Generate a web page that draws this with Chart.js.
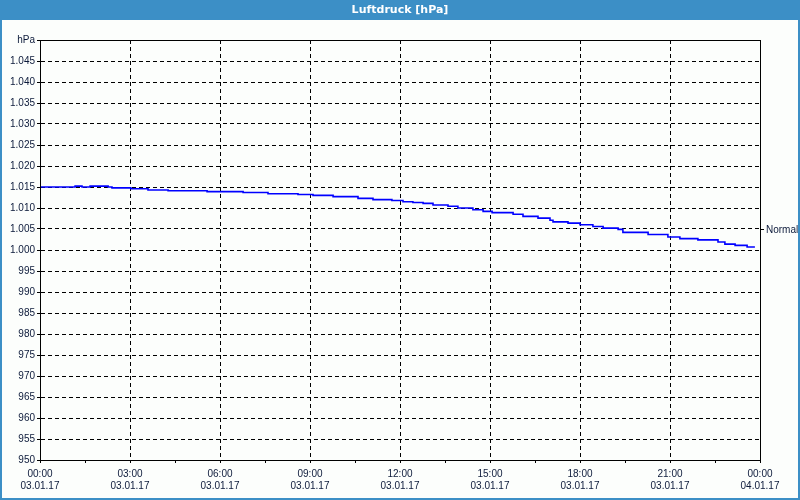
<!DOCTYPE html>
<html>
<head>
  <title>Luftdruck [hPa]</title>
  <script src="https://cdn.jsdelivr.net/npm/chart.js@4.4.1/dist/chart.umd.min.js"></script>
  <style>
    body {
      margin: 0;
      padding: 0;
      overflow: hidden;
      background-color: #fcfefc;
    }
    .chart-container {
      position: relative;
      width: 800px;
      height: 500px;
    }
  </style>
</head>
<body>
  <div class="chart-container">
    <canvas id="pressureChart"></canvas>
  </div>

  <script>
    // Data: hours since 03.01.17 00:00 and pressure in hPa
    var hours = [0, 1.17, 1.4, 1.67, 2.27, 2.4, 3.03, 3.6, 4.27, 5.57, 6.77, 7.6, 8.6, 9.1, 9.77,
                 10.6, 11.1, 11.73, 12.1, 12.43, 12.77, 13.1, 13.6, 13.93, 14.43, 14.77, 15.07,
                 15.77, 16.1, 16.6, 17.0, 17.1, 17.6, 18.0, 18.43, 18.77, 19.27, 19.43, 20.27,
                 20.93, 21.33, 21.93, 22.6, 22.83, 23.17, 23.57, 23.83];
    var pressure = [1015.2, 1015.0, 1015.2, 1015.0, 1015.2, 1015.0, 1014.8, 1014.6, 1014.3, 1014.1,
                    1013.9, 1013.7, 1013.4, 1013.2, 1013.0, 1012.7, 1012.3, 1012.0, 1011.8, 1011.5,
                    1011.3, 1011.1, 1010.7, 1010.4, 1010.0, 1009.6, 1009.2, 1008.9, 1008.5, 1008.0,
                    1007.6, 1007.1, 1006.7, 1006.4, 1006.0, 1005.6, 1005.2, 1004.9, 1004.2, 1003.7,
                    1003.1, 1002.7, 1002.4, 1001.9, 1001.4, 1001.1, 1000.7];
    var normalPressure = 1004.8;

    // Axis labels
    var timeLabels = ['00:00', '03:00', '06:00', '09:00', '12:00', '15:00', '18:00', '21:00', '00:00'];
    var dateLabels = ['03.01.17', '03.01.17', '03.01.17', '03.01.17', '03.01.17', '03.01.17', '03.01.17', '03.01.17', '04.01.17'];

    var points = [];
    for (var i = 0; i < hours.length; i++) {
      points.push({ x: hours[i], y: pressure[i] });
    }

    var labelFont = { family: 'Liberation Sans', size: 10 };
    var labelColor = '#0c1a3a';

    // Background, blue title bar, frame round the chart and box round the plot
    var framePlugin = {
      id: 'frame',
      beforeDraw: function(chart) {
        var ctx = chart.ctx;
        ctx.save();
        ctx.fillStyle = '#fcfefc';
        ctx.fillRect(0, 0, chart.width, chart.height);
        ctx.fillStyle = '#3c8fc6';
        ctx.fillRect(0, 0, chart.width, 20);
        ctx.fillRect(0, 0, 2, chart.height);
        ctx.fillRect(chart.width - 2, 0, 2, chart.height);
        ctx.fillRect(0, chart.height - 2, chart.width, 2);
        ctx.fillStyle = '#ffffff';
        ctx.font = 'bold 11px "DejaVu Sans"';
        ctx.textAlign = 'center';
        ctx.textBaseline = 'middle';
        ctx.fillText('Luftdruck [hPa]', chart.width / 2, 10);
        ctx.restore();
      },
      afterDraw: function(chart) {
        var a = chart.chartArea;
        var ctx = chart.ctx;
        ctx.save();
        ctx.setLineDash([]);
        ctx.strokeStyle = '#000000';
        ctx.lineWidth = 1;
        ctx.strokeRect(Math.round(a.left) + 0.5, Math.round(a.top) + 0.5,
                       Math.round(a.right - a.left), Math.round(a.bottom - a.top));
        ctx.restore();
      }
    };

    var ctx = document.getElementById('pressureChart').getContext('2d');
    var chart = new Chart(ctx, {
      type: 'line',
      data: {
        datasets: [{
          data: points,
          borderColor: '#0000ff',
          borderWidth: 1.6,
          pointRadius: 0,
          stepped: 'after',
          fill: false
        }]
      },
      plugins: [framePlugin],
      options: {
        responsive: true,
        maintainAspectRatio: false,
        animation: false,
        layout: {
          padding: { left: 0, right: 0, top: 40, bottom: 0 }
        },
        plugins: {
          legend: { display: false },
          tooltip: { enabled: false }
        },
        scales: {
          x: {
            type: 'linear',
            min: 0,
            max: 24,
            afterFit: function(scale) { scale.height = 40; },
            afterBuildTicks: function(scale) {
              var t = [];
              for (var v = 0; v <= 24; v += 1.5) t.push({ value: v });
              scale.ticks = t;
            },
            ticks: {
              autoSkip: false,
              maxRotation: 0,
              padding: 5,
              font: labelFont,
              color: labelColor,
              callback: function(value) {
                if (value % 3 !== 0) return '';
                var k = value / 3;
                return [timeLabels[k], dateLabels[k]];
              }
            },
            grid: {
              color: function(c) {
                return (c.tick && c.tick.value % 3 === 0) ? '#000000' : 'rgba(0,0,0,0)';
              },
              tickColor: '#000000',
              tickBorderDash: [],
              tickLength: 3
            },
            border: { display: true, color: '#000000', width: 1, dash: [4, 3] }
          },
          y: {
            type: 'linear',
            position: 'left',
            min: 950,
            max: 1050,
            afterFit: function(scale) { scale.width = 40; },
            ticks: {
              stepSize: 5,
              padding: 2,
              font: labelFont,
              color: labelColor,
              callback: function(value) {
                if (value === 1050) return 'hPa';
                if (value >= 1000) return '1.' + String(value).slice(1);
                return String(value);
              }
            },
            grid: {
              color: '#000000',
              tickColor: '#000000',
              tickBorderDash: [],
              tickLength: 3
            },
            border: { display: true, color: '#000000', width: 1, dash: [4, 3] }
          },
          y2: {
            type: 'linear',
            position: 'right',
            min: 950,
            max: 1050,
            afterFit: function(scale) { scale.width = 40; },
            afterBuildTicks: function(scale) {
              scale.ticks = [{ value: normalPressure }];
            },
            ticks: {
              padding: 2,
              font: labelFont,
              color: labelColor,
              callback: function() { return 'Normal'; }
            },
            grid: {
              drawOnChartArea: false,
              tickColor: '#000000',
              tickLength: 4
            },
            border: { display: false }
          }
        }
      }
    });
  </script>
</body>
</html>
